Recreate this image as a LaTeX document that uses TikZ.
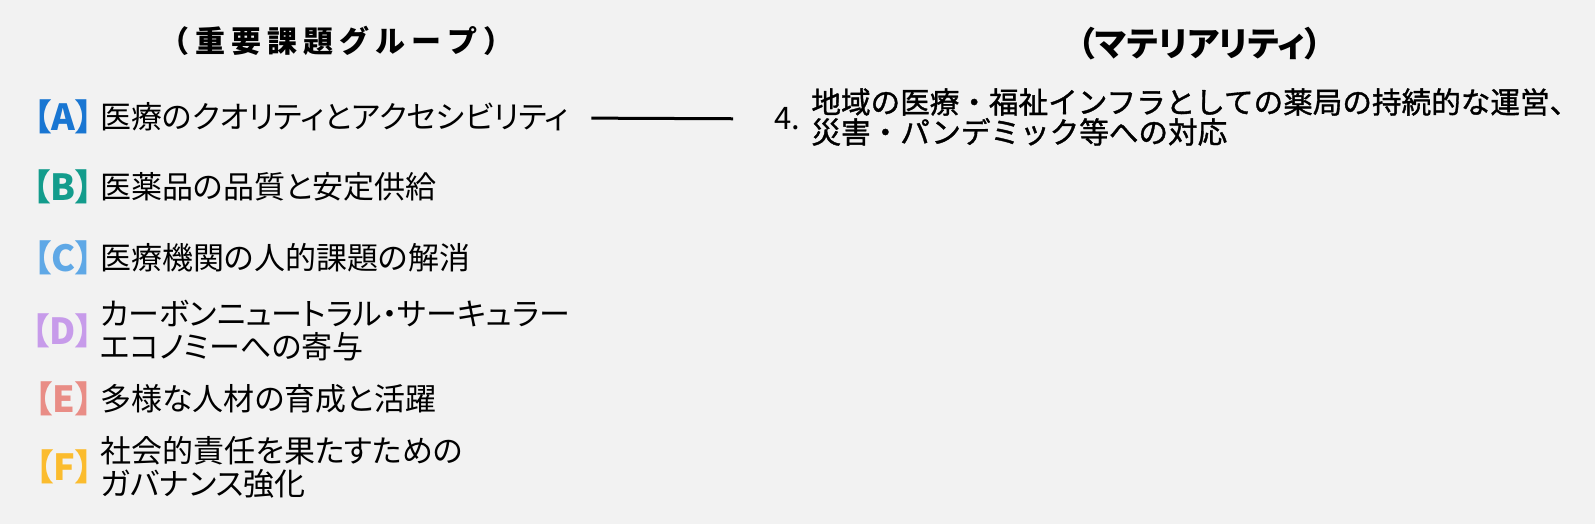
\documentclass[tikz,border=0pt]{standalone}
\usepackage{fontspec}
\setmainfont{Noto Sans CJK JP}[CharacterWidth=AlternateProportional]
\newfontfamily\jpfull{Noto Sans CJK JP}
\newfontfamily\jpheavy{Noto Sans CJK JP}[FakeBold=1.2]
\usetikzlibrary{positioning}
\definecolor{bg}{HTML}{F2F2F2}
\definecolor{ca}{HTML}{1976D2}
\definecolor{cb}{HTML}{139C8C}
\definecolor{cc}{HTML}{5FA8E6}
\definecolor{cd}{HTML}{C79BEA}
\definecolor{ce}{HTML}{E98D86}
\definecolor{cf}{HTML}{FBBC2E}

\begin{document}
\begin{tikzpicture}[x=0.5pt,y=-0.5pt,
  tag/.style={anchor=east, inner sep=0pt, font=\fontsize{18}{18}\selectfont\bfseries},
  item/.style={anchor=west, inner sep=0pt, align=left, font=\fontsize{15.5}{16.5}\selectfont},
  head/.style={inner sep=0pt, font=\fontsize{15}{18}\selectfont\bfseries},
  link/.style={line width=1.5pt, shorten <=11pt, shorten >=20.5pt}]
\fill[bg] (0,0) rectangle (1595,524);

%headings
\node[head, font=\jpfull\fontsize{15}{18}\selectfont\bfseries] (h1) at (336,41)
  {（\hspace{3pt}重\hspace{3pt}要\hspace{3pt}課\hspace{3pt}題\hspace{3pt}グ\hspace{3pt}ル\hspace{3pt}ー\hspace{3pt}プ\hspace{3pt}）};
\node[head, font=\fontsize{17}{18}\selectfont\bfseries] (h2) at (1200,44) {（マテリアリティ）};

%groups
\node[tag, text=ca] (A) at (94,117) {【A】};
\node[tag, text=cb] (B) at (94,187) {【B】};
\node[tag, text=cc] (C) at (94,258) {【C】};
\node[tag, text=cd] (D) at (94,331) {【D】};
\node[tag, text=ce] (E) at (94,399) {【E】};
\node[tag, text=cf] (F) at (94,467) {【F】};
\node[item] (a) at (100,117) {医療のクオリティとアクセシビリティ};
\node[item] (b) at (100,187) {医薬品の品質と安定供給};
\node[item] (c) at (100,258) {医療機関の人的課題の解消};
\node[item] (d) at (100,331) {カーボンニュートラル・サーキュラー\\エコノミーへの寄与};
\node[item] (e) at (100,399) {多様な人材の育成と活躍};
\node[item] (f) at (100,467) {社会的責任を果たすための\\ガバナンス強化};

%materiality
\node[item] (n) at (774,119) {4.};
\node[item, font=\jpheavy\fontsize{14.8}{15}\selectfont] (m) at (811,117) {地域の医療・福祉インフラとしての薬局の持続的な運営、\\災害・パンデミック等への対応};

%connections
\draw[link] (a) -- (n);
\end{tikzpicture}
\end{document}
